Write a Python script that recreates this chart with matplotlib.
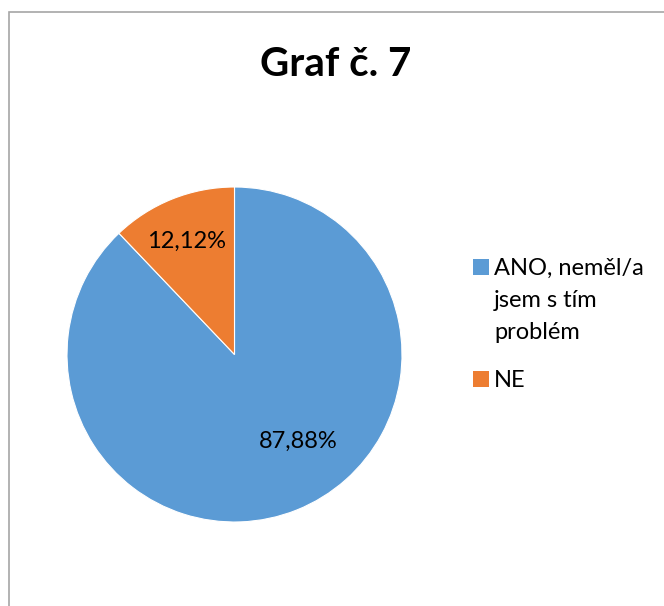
import matplotlib
matplotlib.use("Agg")
import matplotlib.pyplot as plt
from matplotlib.patches import Rectangle

plt.rcParams['font.family'] = ['Lato', 'DejaVu Sans']

# Data
categories = ['ANO, neměl/a\njsem s tím\nproblém', 'NE']
values = [87.88, 12.12]
colors = ['#5B9BD5', '#ED7D31']
title = 'Graf č. 7'

W, H = 664, 606
fig = plt.figure(figsize=(W / 100, H / 100), dpi=100)

# Chart border (only left and top visible in the original crop)
fig.patches.append(Rectangle((9 / W, -0.1), 1.2, 1.1 - 12 / H, transform=fig.transFigure,
                             fill=False, edgecolor='#A6A6A6', linewidth=1.2))

# pie axes: centre (234.5, 354.5) px, radius 167.5 px
cx, cy, r = 234.5, 354.5, 167.5
ax = fig.add_axes([(cx - r) / W, 1 - (cy + r) / H, 2 * r / W, 2 * r / H])
wedges, _ = ax.pie(values, colors=colors, startangle=90, counterclock=False,
                   wedgeprops=dict(edgecolor='white', linewidth=0.8))
ax.set_xlim(-1, 1)
ax.set_ylim(-1, 1)
ax.set_aspect('equal')
ax.axis('off')

# data labels
label_pos = [(0.379, -0.516), (-0.287, 0.675)]
for v, (lx, ly) in zip(values, label_pos):
    ax.text(lx, ly, f"{v:.2f}%".replace('.', ','), ha='center', va='center',
            fontsize=17, color='black')

fig.text(336 / W, 1 - 64 / H, title, ha='center', va='center',
         fontsize=29, fontweight='bold')

# legend
box_y = [259, 371]
line_gap = 32
for lab, col, by in zip(categories, colors, box_y):
    fig.patches.append(Rectangle((473 / W, 1 - (by + 16) / H), 16 / W, 16 / H,
                                 transform=fig.transFigure, facecolor=col, edgecolor='none'))
    for i, line in enumerate(lab.split('\n')):
        fig.text(494 / W, 1 - (by + 16 + i * line_gap) / H, line, ha='left', va='baseline',
                 fontsize=17, color='black')

fig.savefig('out.png', dpi=100)
